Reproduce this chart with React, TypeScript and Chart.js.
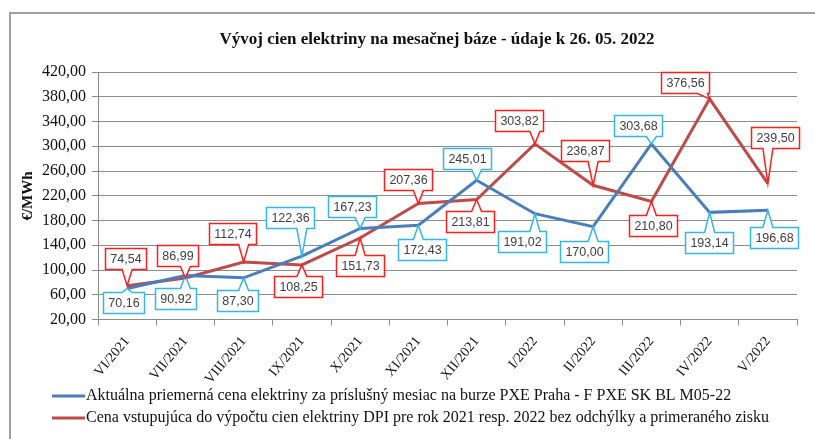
import React, { useEffect, useRef } from "react";
import Chart from "chart.js/auto";

const chartTitle = "Vývoj cien elektriny na mesačnej báze - údaje k 26. 05. 2022";
const yAxisTitle = "€/MWh";
const categories = ["VI/2021", "VII/2021", "VIII/2021", "IX/2021", "X/2021", "XI/2021", "XII/2021", "I/2022", "II/2022", "III/2022", "IV/2022", "V/2022"];
const marketName = "Aktuálna priemerná cena elektriny za príslušný mesiac na burze PXE Praha - F PXE SK BL M05-22";
const dpiName = "Cena vstupujúca do výpočtu cien elektriny DPI pre rok 2021 resp. 2022 bez odchýlky a primeraného zisku";
const marketPrice = [70.16, 90.92, 87.3, 122.36, 167.23, 172.43, 245.01, 191.02, 170.0, 303.68, 193.14, 196.68];
const dpiPrice = [74.54, 86.99, 112.74, 108.25, 151.73, 207.36, 213.81, 303.82, 236.87, 210.8, 376.56, 239.5];
const yTicks = [20, 60, 100, 140, 180, 220, 260, 300, 340, 380, 420];

// callout box centre offsets relative to the point (styling only)
const marketLabelOffsets = [[-4, 14], [-10, 23], [-6, 23], [-12, -39], [-8, -22], [4, 24], [-10, -22], [-13, 28], [-9, 25], [-13, -18], [-1, 30], [6, 27]];
const dpiLabelOffsets = [[-2, -27], [-8, -23], [-11, -29], [-4, 22], [0, 28], [-10, -24], [-7, 22], [-16, -23], [-8, -35], [2, 24], [-25, -16], [7, -46]];

const BLUE = "rgb(74,126,187)";
const RED = "rgb(190,75,72)";
const BLUE_BOX = "rgb(51,183,235)";
const RED_BOX = "rgb(255,30,30)";
const GRID = "#8c8c8c";
const SERIF = "'Liberation Serif', 'Times New Roman', serif";
const SANS = "'Liberation Sans', Arial, sans-serif";

const fmt = (v: number) => v.toFixed(2).replace(".", ",");

function calloutPath(ctx: CanvasRenderingContext2D, L: number, T: number, R: number, B: number, tx: number, ty: number) {
  const w = 10;
  let side = "right";
  if (ty > B) side = "bottom";
  else if (ty < T) side = "top";
  else if (tx < L) side = "left";
  const cx = Math.min(Math.max(tx, L + w / 2 + 2), R - w / 2 - 2);
  const cy = Math.min(Math.max(ty, T + w / 2 + 2), B - w / 2 - 2);
  ctx.beginPath();
  ctx.moveTo(L, T);
  if (side === "top") { ctx.lineTo(cx - w / 2, T); ctx.lineTo(tx, ty); ctx.lineTo(cx + w / 2, T); }
  ctx.lineTo(R, T);
  if (side === "right") { ctx.lineTo(R, cy - w / 2); ctx.lineTo(tx, ty); ctx.lineTo(R, cy + w / 2); }
  ctx.lineTo(R, B);
  if (side === "bottom") { ctx.lineTo(cx + w / 2, B); ctx.lineTo(tx, ty); ctx.lineTo(cx - w / 2, B); }
  ctx.lineTo(L, B);
  if (side === "left") { ctx.lineTo(L, cy + w / 2); ctx.lineTo(tx, ty); ctx.lineTo(L, cy - w / 2); }
  ctx.closePath();
}

const decorPlugin = {
  id: "decor",
  beforeDraw(chart: any) {
    const ctx = chart.ctx as CanvasRenderingContext2D;
    ctx.save();
    ctx.fillStyle = "#fff";
    ctx.fillRect(0, 0, chart.width, chart.height);
    ctx.strokeStyle = "#a0a0a0";
    ctx.lineWidth = 2;
    ctx.strokeRect(10, 13, chart.width + 20, chart.height + 20);
    ctx.restore();
  },
  afterDatasetsDraw(chart: any) {
    const ctx = chart.ctx as CanvasRenderingContext2D;
    const sets = [
      { idx: 0, values: marketPrice, offs: marketLabelOffsets, color: BLUE_BOX },
      { idx: 1, values: dpiPrice, offs: dpiLabelOffsets, color: RED_BOX },
    ];
    ctx.save();
    ctx.font = `12.5px ${SANS}`;
    ctx.textAlign = "center";
    ctx.textBaseline = "middle";
    sets.forEach((s) => {
      const meta = chart.getDatasetMeta(s.idx);
      meta.data.forEach((pt: any, i: number) => {
        const txt = fmt(s.values[i]);
        const tw = ctx.measureText(txt).width;
        const bw = Math.round(tw + 10);
        const bh = 21;
        const cx = pt.x + s.offs[i][0];
        const cy = pt.y + s.offs[i][1];
        const L = Math.round(cx - bw / 2) + 0.5;
        const T = Math.round(cy - bh / 2) + 0.5;
        calloutPath(ctx, L, T, L + bw, T + bh, pt.x, pt.y);
        ctx.fillStyle = "#fff";
        ctx.fill();
        ctx.strokeStyle = s.color;
        ctx.lineWidth = 1.5;
        ctx.stroke();
        ctx.fillStyle = "#404040";
        ctx.fillText(txt, L + bw / 2, T + bh / 2 + 0.5);
      });
    });
    ctx.restore();
  },
  afterDraw(chart: any) {
    const ctx = chart.ctx as CanvasRenderingContext2D;
    ctx.save();
    ctx.fillStyle = "#111";
    ctx.font = `bold 17px ${SERIF}`;
    ctx.textAlign = "center";
    ctx.textBaseline = "middle";
    ctx.fillText(chartTitle, 437, 40);
    ctx.save();
    ctx.translate(28, 196);
    ctx.rotate(-Math.PI / 2);
    ctx.font = `bold 15px ${SERIF}`;
    ctx.fillText(yAxisTitle, 0, 0);
    ctx.restore();
    const legend = [
      { name: marketName, color: BLUE, y: 396 },
      { name: dpiName, color: RED, y: 418 },
    ];
    ctx.font = `16px ${SERIF}`;
    ctx.textAlign = "left";
    legend.forEach((l) => {
      ctx.strokeStyle = l.color;
      ctx.lineWidth = 3;
      ctx.beginPath();
      ctx.moveTo(52, l.y);
      ctx.lineTo(85, l.y);
      ctx.stroke();
      ctx.fillStyle = "#111";
      ctx.fillText(l.name, 86, l.y);
    });
    ctx.restore();
  },
};

export default function App() {
  const ref = useRef<HTMLCanvasElement | null>(null);
  useEffect(() => {
    if (!ref.current) return;
    const chart = new Chart(ref.current, {
      type: "line",
      data: {
        labels: categories,
        datasets: [
          { label: marketName, data: marketPrice, borderColor: BLUE, backgroundColor: BLUE, borderWidth: 3, pointRadius: 0, tension: 0 },
          { label: dpiName, data: dpiPrice, borderColor: RED, backgroundColor: RED, borderWidth: 3, pointRadius: 0, tension: 0 },
        ],
      },
      options: {
        animation: false,
        responsive: false,
        layout: { padding: { left: 0, top: 72, right: 18, bottom: 0 } },
        plugins: { legend: { display: false }, title: { display: false }, tooltip: { enabled: false } },
        scales: {
          x: {
            type: "category",
            offset: true,
            grid: { display: true, offset: true, drawOnChartArea: false, color: GRID, tickLength: 6 },
            border: { display: true, color: GRID, width: 1 },
            ticks: { minRotation: 50, maxRotation: 50, autoSkip: false, padding: 8, color: "#111", font: { family: SERIF, size: 14 } },
            afterFit: (s: any) => { s.height = 439 - 319.5; },
          },
          y: {
            min: 20,
            max: 420,
            afterBuildTicks: (s: any) => { s.ticks = yTicks.map((v) => ({ value: v })); },
            grid: { color: GRID, tickLength: 6 },
            border: { display: true, color: GRID, width: 1 },
            ticks: { padding: 6, color: "#111", font: { family: SERIF, size: 16 }, callback: (v: any) => fmt(Number(v)) },
            afterFit: (s: any) => { s.width = 98; },
          },
        },
      },
      plugins: [decorPlugin],
    });
    return () => chart.destroy();
  }, []);
  return (
    <div style={{ position: "absolute", left: 0, top: 0, width: 815, height: 439 }}>
      <canvas ref={ref} width={815} height={439} style={{ display: "block", width: 815, height: 439 }} />
    </div>
  );
}
